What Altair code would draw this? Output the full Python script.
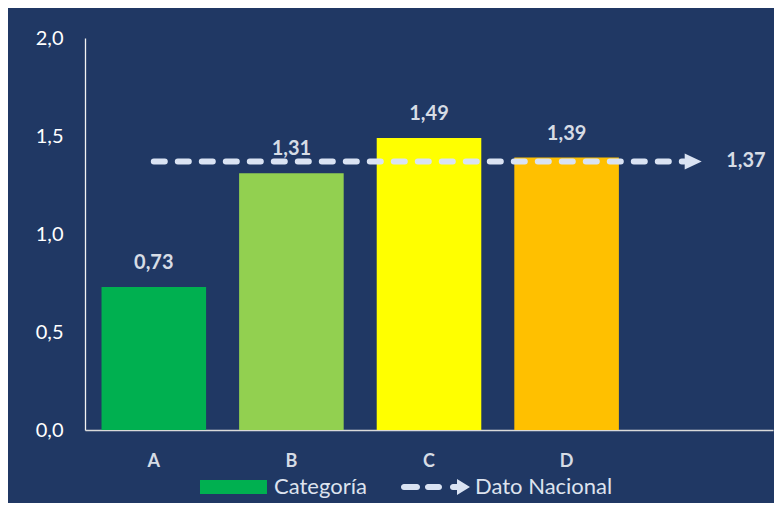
import altair as alt
import pandas as pd

# ---- data ----
categorias = ["A", "B", "C", "D"]
valores = [0.73, 1.31, 1.49, 1.39]
colores = ["#00B050", "#92D050", "#FFFF00", "#FFC000"]
dominio_x = ["A", "B", "C", "D", "E"]   # "E" = empty slot on the right
dato_nacional = 1.37
series_leyenda = ["Categoría", "Dato Nacional"]
colores_leyenda = ["#00B050", "#DAE3F3"]
y_ticks = [0, 0.5, 1.0, 1.5, 2.0]

BG = "#203864"
FONT = "Lato"
LIGHT = "#D6DCE5"
LINE = "#DAE3F3"

bars_df = pd.DataFrame({"cat": categorias, "v": valores})
nat_df = pd.DataFrame({"x1": ["A"], "x2": ["E"], "v": [dato_nacional]})
leg_df = pd.DataFrame({"serie": series_leyenda, "yv": [None, None]})

xscale = alt.Scale(domain=dominio_x, paddingInner=0.24, paddingOuter=0.12)
yscale = alt.Scale(domain=[0, 2], nice=False)

x_axis = alt.Axis(title=None, labelExpr="datum.value == 'E' ? '' : datum.value",
                  labelFont=FONT, labelFontSize=18, labelFontWeight="bold",
                  labelColor=LIGHT, labelPadding=22, ticks=False,
                  domainColor="#D9D9D9", domainWidth=1.5, labelAngle=0, grid=False)
y_axis = alt.Axis(title=None, values=y_ticks,
                  labelExpr="replace(format(datum.value, '.1f'), '.', ',')",
                  labelFont=FONT, labelFontSize=20, labelColor="#FFFFFF",
                  labelPadding=22, ticks=False, domainColor="#F2F2F2",
                  domainWidth=1.3, grid=False)

X = lambda f: alt.X(f, scale=xscale, axis=x_axis, title=None)
Y = lambda f: alt.Y(f, scale=yscale, axis=y_axis, title=None)

bars = alt.Chart(bars_df).mark_bar().encode(
    x=X("cat:N"),
    y=Y("v:Q"),
    fill=alt.Fill("cat:N", scale=alt.Scale(domain=categorias, range=colores), legend=None),
)

bar_text = alt.Chart(bars_df).transform_calculate(
    lbl="replace(format(datum.v, '.2f'), '.', ',')"
).mark_text(font=FONT, fontSize=20, fontWeight="bold", color=LIGHT,
            baseline="alphabetic", dy=-18).encode(
    x=X("cat:N"), y=Y("v:Q"), text="lbl:N")

line = alt.Chart(nat_df).mark_rule(color=LINE, strokeWidth=6, strokeCap="round",
                                   strokeDash=[11, 13], x2Offset=-20).encode(
    x=X("x1:N"), x2="x2:N", y=Y("v:Q"))

arrow = alt.Chart(nat_df).mark_point(filled=True, color=LINE, opacity=1, size=289,
                                     shape="M-1,-0.95L1,0L-1,0.95Z", xOffset=-11).encode(
    x=X("x2:N"), y=Y("v:Q"))

nat_text = alt.Chart(nat_df).transform_calculate(
    lbl="replace(format(datum.v, '.2f'), '.', ',')"
).mark_text(font=FONT, fontSize=20, fontWeight="bold", color=LIGHT,
            align="left", baseline="middle", dx=22).encode(
    x=X("x2:N"), y=Y("v:Q"), text="lbl:N")

rect_path = "M-1,-1H8.57V1H-1Z"
arrow_path = ("M-0.571,-0.43H1.286A0.43,0.43 0 0 1 1.286,0.43H-0.571A0.43,0.43 0 0 1 -0.571,-0.43Z"
              "M2.857,-0.43H4.429A0.43,0.43 0 0 1 4.429,0.43H2.857A0.43,0.43 0 0 1 2.857,-0.43Z"
              "M6.429,-0.43H7.1V0.43H6.429A0.43,0.43 0 0 1 6.429,-0.43Z"
              "M7,-1.143L8.857,0L7,1.143Z")

leg = alt.Legend(title=None, orient="none", legendX=111, legendY=438,
                 direction="horizontal", symbolSize=196, symbolStrokeWidth=0,
                 labelOffset=56, labelFont=FONT, labelFontSize=22,
                 labelColor="#DDE3EE", columnPadding=30, padding=0,
                 symbolOpacity=1)

legend_layer = alt.Chart(leg_df).mark_point(filled=True, size=196).encode(
    y=Y("yv:Q"),
    color=alt.Color("serie:N", scale=alt.Scale(domain=series_leyenda, range=colores_leyenda), legend=leg),
    shape=alt.Shape("serie:N", scale=alt.Scale(domain=series_leyenda, range=[rect_path, arrow_path]), legend=leg),
)

chart = alt.layer(bars, line, arrow, bar_text, nat_text, legend_layer).properties(
    width=688, height=392, background=BG,
    padding={"left": 77, "top": 30, "right": 1, "bottom": 73},
    autosize=alt.AutoSizeParams(type="none"),
).configure_view(stroke=None)

chart.save("out.html", embed_options={"renderer": "svg", "actions": False})
